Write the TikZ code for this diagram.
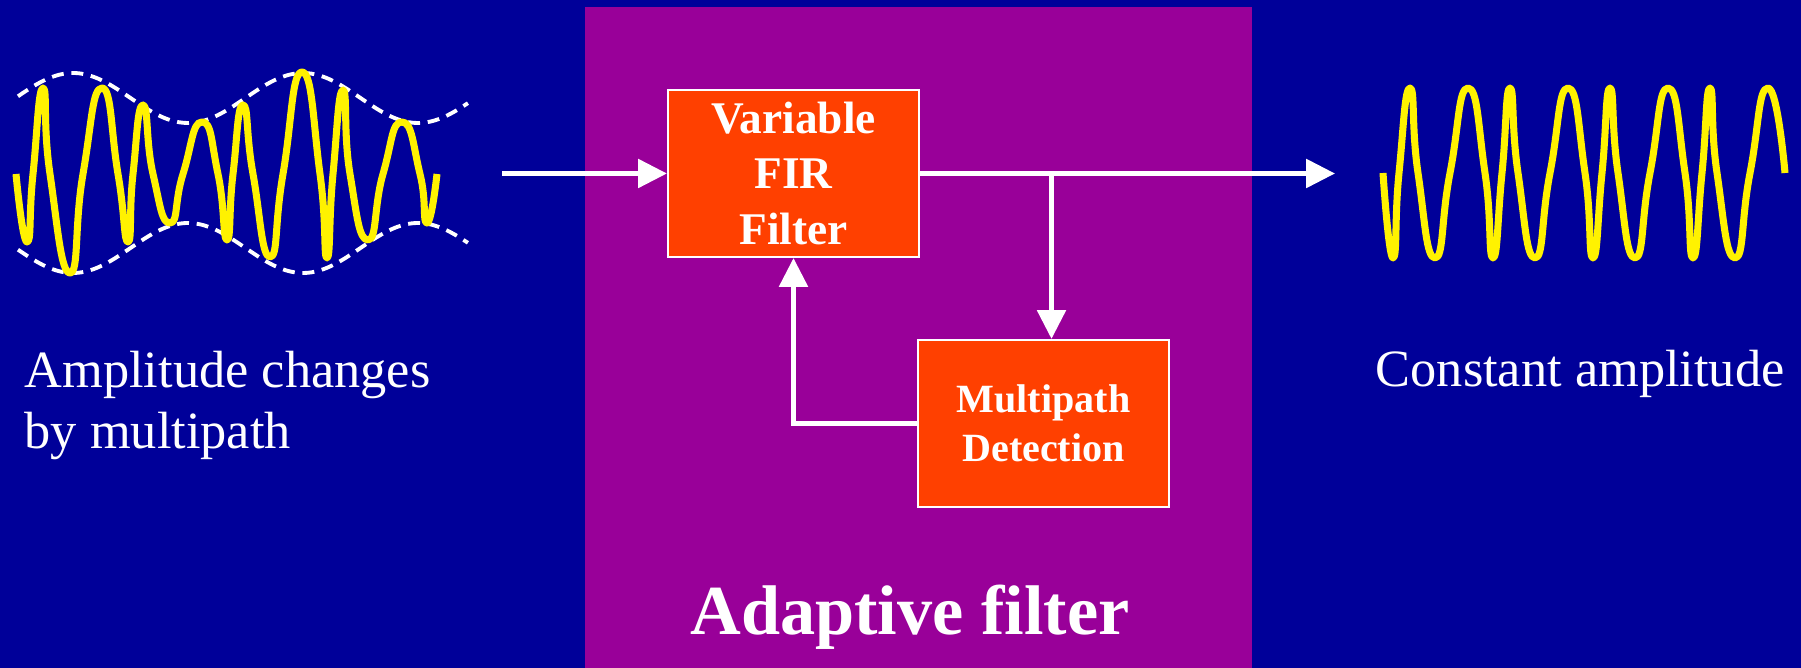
\documentclass[tikz,border=0pt]{standalone}
\usepackage{fontspec}
\setmainfont{Liberation Serif}
\usetikzlibrary{arrows.meta}
\definecolor{slideblue}{RGB}{0,0,153}
\definecolor{filterpurple}{RGB}{153,0,153}
\definecolor{blockred}{RGB}{255,64,0}

\begin{document}
\begin{tikzpicture}[
		>={Triangle[length=8.2pt, width=8pt]},
		block/.style={rectangle, draw=white, line width=0.6pt, fill=blockred, text=white, align=center, inner sep=0pt, minimum width=2.51cm, minimum height=1.67cm},
		flow/.style={draw=white, line width=1.4pt, ->},
		wave/.style={draw=yellow, line width=2pt, line join=round},
		envelope/.style={draw=white, line width=1.1pt, dash pattern=on 3.4pt off 2.2pt},
		caption/.style={text=white, inner sep=0pt, font=\fontsize{14.9}{17.4}\selectfont}
	]
		\path[use as bounding box, fill=slideblue] (0, 0) rectangle (18.01, -6.68);
		\fill[filterpurple] (5.85, -0.07) rectangle (12.52, -6.68);

		\draw[envelope] plot[domain=0.18:4.68, samples=90, smooth] (\x, {-0.98 + 0.25*cos(360*(\x - 0.73)/2.30)});
		\draw[envelope] plot[domain=0.18:4.68, samples=90, smooth] (\x, {-2.48 - 0.25*cos(360*(\x - 0.73)/2.30)});
		\draw[wave] plot[smooth, tension=1] coordinates {(0.16,-1.74) (0.27,-2.42) (0.33,-1.74) (0.43,-0.88) (0.50,-1.74) (0.70,-2.73) (0.83,-1.74) (1.02,-0.88) (1.18,-1.74) (1.28,-2.42) (1.33,-1.74) (1.43,-1.05) (1.53,-1.74) (1.70,-2.23) (1.83,-1.74) (2.02,-1.22) (2.18,-1.74) (2.27,-2.40) (2.33,-1.74) (2.43,-1.05) (2.53,-1.74) (2.70,-2.57) (2.83,-1.74) (3.02,-0.72) (3.20,-1.74) (3.27,-2.58) (3.33,-1.74) (3.43,-0.90) (3.50,-1.74) (3.68,-2.40) (3.83,-1.74) (4.02,-1.22) (4.20,-1.74) (4.27,-2.23) (4.37,-1.74)};
		\draw[wave] plot[smooth, tension=1] coordinates {(13.83,-1.73) (13.93,-2.58) (13.99,-1.73) (14.10,-0.88) (14.18,-1.73) (14.35,-2.58) (14.50,-1.73) (14.68,-0.88) (14.85,-1.73) (14.93,-2.58) (15.02,-1.73) (15.10,-0.88) (15.18,-1.73) (15.35,-2.58) (15.50,-1.73) (15.68,-0.88) (15.85,-1.73) (15.93,-2.58) (16.02,-1.73) (16.10,-0.88) (16.18,-1.73) (16.35,-2.58) (16.50,-1.73) (16.68,-0.88) (16.85,-1.73) (16.93,-2.58) (17.02,-1.73) (17.10,-0.88) (17.17,-1.73) (17.35,-2.58) (17.50,-1.73) (17.68,-0.88) (17.85,-1.73)};

		\draw 
		(7.935, -1.735) node [block, font=\bfseries\fontsize{12.9}{15.9}\selectfont] (FIR) {Variable\\FIR\\Filter}
		(10.435, -4.235) node [block, font=\bfseries\fontsize{11.4}{13.9}\selectfont] (MPD) {Multipath\\Detection}
		(0.24, -3.50) node [caption, anchor=north west, align=left] (changes) {Amplitude changes\\by multipath}
		(13.75, -3.87) node [caption, anchor=base west] (constant) {Constant amplitude}
		(9.10, -6.35) node [text=white, anchor=base, font=\bfseries\fontsize{20}{24}\selectfont] (adaptive) {Adaptive filter};
		\coordinate (in) at (5.02, -1.735);
		\coordinate (split) at (10.515, -1.735);
		\coordinate (out) at (13.35, -1.735);

		\draw[flow] (in) -- (FIR.west);
		\draw[flow] (FIR.east) -- (out);
		\draw[flow] (split) -- (split |- MPD.north);
		\draw[flow] (MPD.west) -| (FIR.south);
	\end{tikzpicture}
\end{document}
